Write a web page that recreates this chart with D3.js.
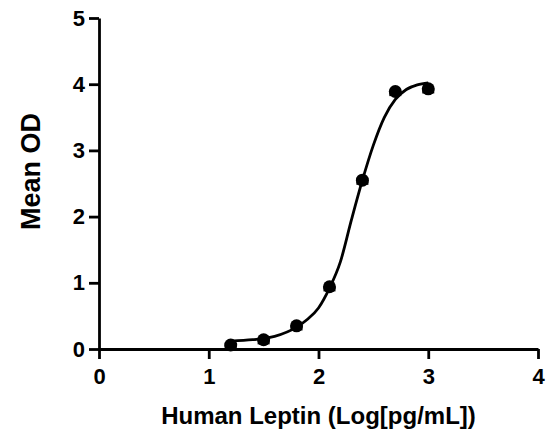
<!DOCTYPE html>
<html>
<head>
<meta charset="utf-8">
<script src="https://cdn.jsdelivr.net/npm/d3@7"></script>
<style>
  body { margin: 0; background: #fff; }
  text { font-family: "Liberation Sans", Arial, sans-serif; font-weight: bold; fill: #000; }
</style>
</head>
<body>
<div id="chart"></div>
<script>
// measured points (log concentration vs mean OD)
const logConc = [1.2, 1.5, 1.8, 2.1, 2.4, 2.7, 3.0];
const meanOD = [0.06, 0.14, 0.35, 0.94, 2.55, 3.89, 3.93];
const errOD = [0.07, 0.07, 0.07, 0.07, 0.07, 0.07, 0.07];

// fitted curve
const fitX = [1.2, 1.4, 1.6, 1.8, 1.9, 2.0, 2.1, 2.2, 2.3, 2.4, 2.5, 2.6, 2.7, 2.8, 2.9, 3.0];
const fitY = [0.12, 0.14, 0.19, 0.33, 0.45, 0.62, 0.92, 1.32, 1.95, 2.55, 3.08, 3.50, 3.77, 3.92, 3.99, 4.02];

const xTicks = [0, 1, 2, 3, 4];
const yTicks = [0, 1, 2, 3, 4, 5];

const margin = {top: 18, right: 12, bottom: 92, left: 99};
const width = 550 - margin.left - margin.right;
const height = 441 - margin.top - margin.bottom;

const svg = d3.select("#chart")
  .append("svg")
    .attr("width", 550)
    .attr("height", 441)
  .append("g")
    .attr("transform", "translate(" + margin.left + "," + margin.top + ")");

const x = d3.scaleLinear().domain([0, 4]).range([0, width]);
const y = d3.scaleLinear().domain([0, 5]).range([height, 0]);

// axes
const xAxis = svg.append("g")
  .attr("transform", "translate(0," + height + ")")
  .call(d3.axisBottom(x).tickValues(xTicks).tickFormat(d3.format("d")).tickSize(10).tickSizeOuter(0).tickPadding(9));

const yAxis = svg.append("g")
  .call(d3.axisLeft(y).tickValues(yTicks).tickFormat(d3.format("d")).tickSize(10).tickSizeOuter(0).tickPadding(4));

[xAxis, yAxis].forEach(function(a) {
  a.select(".domain").attr("stroke", "#000").attr("stroke-width", 2.8);
  a.selectAll(".tick line").attr("stroke", "#000").attr("stroke-width", 2.8);
  a.selectAll(".tick text").style("font-size", "22px").style("font-family", "Liberation Sans, Arial, sans-serif").style("font-weight", "bold");
});

// fitted line
const line = d3.line()
  .x(function(d, i) { return x(fitX[i]); })
  .y(function(d) { return y(d); })
  .curve(d3.curveMonotoneX);

svg.append("path")
  .datum(fitY)
  .attr("d", line)
  .attr("fill", "none")
  .attr("stroke", "#000")
  .attr("stroke-width", 2.8);

// error bars
svg.selectAll("errbar")
  .data(logConc)
  .enter()
  .append("rect")
  .attr("x", function(d) { return x(d) - 6; })
  .attr("y", function(d, i) { return y(meanOD[i]); })
  .attr("width", 12)
  .attr("height", function(d, i) { return y(meanOD[i] - errOD[i]) - y(meanOD[i]); })
  .attr("fill", "#000");

// points
svg.selectAll("pt")
  .data(logConc)
  .enter()
  .append("circle")
  .attr("cx", function(d) { return x(d); })
  .attr("cy", function(d, i) { return y(meanOD[i]); })
  .attr("r", 6.5)
  .attr("fill", "#000");

// axis titles
svg.append("text")
  .attr("x", x(2))
  .attr("y", height + 75)
  .attr("text-anchor", "middle")
  .style("font-size", "24px")
  .text("Human Leptin (Log[pg/mL])");

svg.append("text")
  .attr("transform", "translate(-59," + (y(2.68)) + ") rotate(-90)")
  .attr("text-anchor", "middle")
  .style("font-size", "27px")
  .text("Mean OD");
</script>
</body>
</html>
